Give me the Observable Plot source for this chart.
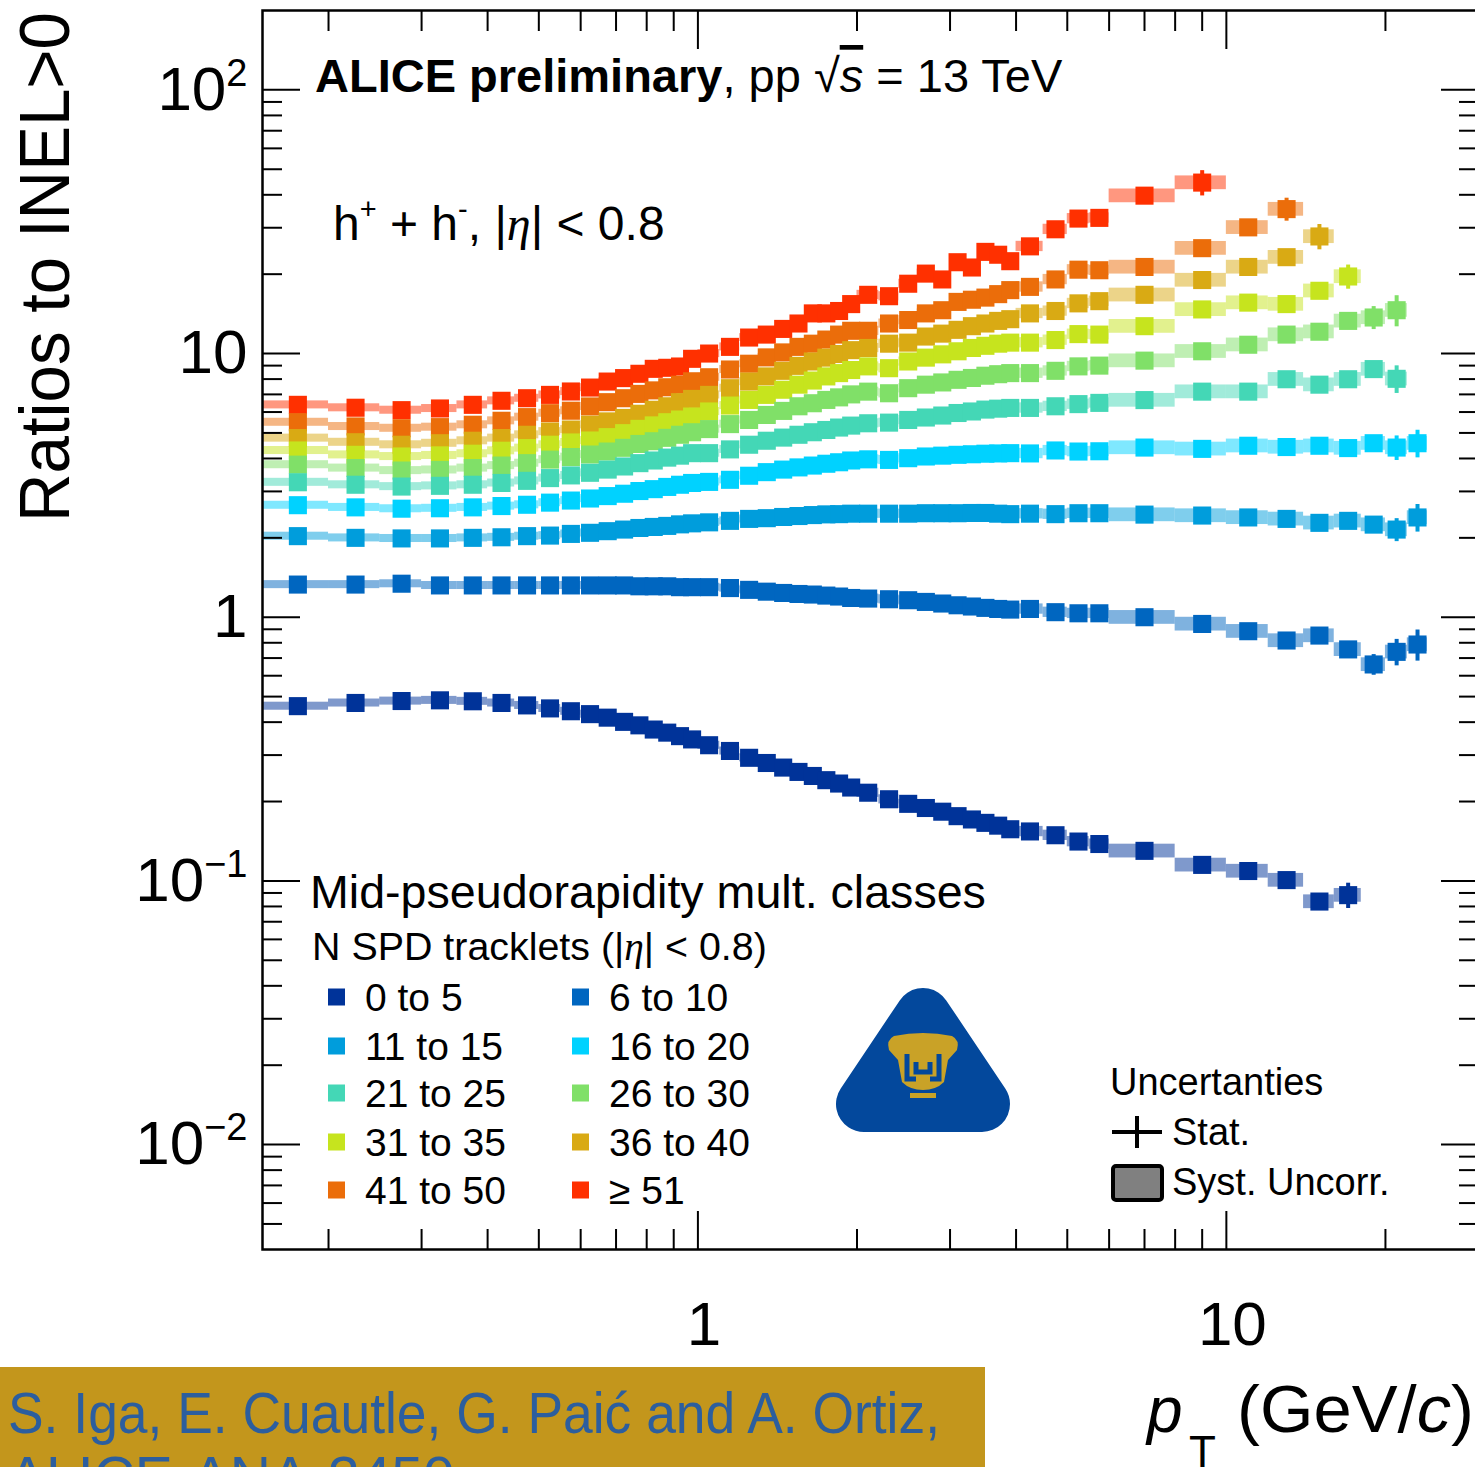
<!DOCTYPE html>
<html><head><meta charset="utf-8">
<script src="https://cdn.jsdelivr.net/npm/d3@7"></script>
<script src="https://cdn.jsdelivr.net/npm/@observablehq/plot@0.6"></script>
<style>
html,body{margin:0;padding:0;background:#fff;overflow:hidden;}
#wrap{position:relative;width:1475px;height:1467px;overflow:hidden;background:#fff;}
#wrap > svg{position:absolute;left:0;top:0;max-width:none !important;}
</style></head><body><div id="wrap"></div>
<script>
// ---------- categories & colours ----------
const classes = ["0 to 5","6 to 10","11 to 15","16 to 20","21 to 25","26 to 30","31 to 35","36 to 40","41 to 50","≥ 51"];
const colors  = ["#003399","#0066c0","#009ddc","#00d2ff","#44d7b6","#80e068","#c6e41e","#d9aa14","#eb6d0a","#ff3000"];

// ---------- pT binning (GeV/c) ----------
const ptLow = [0.15,0.2,0.25,0.3,0.35,0.4,0.45,0.5,0.55,0.6,0.65,0.7,0.75,0.8,0.85,0.9,0.95,
  1.0,1.1,1.2,1.3,1.4,1.5,1.6,1.7,1.8,1.9,
  2.0,2.2,2.4,2.6,2.8,3.0,3.2,3.4,3.6,3.8,
  4.0,4.5,5.0,5.5,
  6,8,10,12,14,16,18,20,22];
const ptHigh = [0.2,0.25,0.3,0.35,0.4,0.45,0.5,0.55,0.6,0.65,0.7,0.75,0.8,0.85,0.9,0.95,1.0,
  1.1,1.2,1.3,1.4,1.5,1.6,1.7,1.8,1.9,2.0,
  2.2,2.4,2.6,2.8,3.0,3.2,3.4,3.6,3.8,4.0,
  4.5,5.0,5.5,6.0,
  8,10,12,14,16,18,20,22,24];
const ptCenter = [0.175,0.225,0.275,0.325,0.375,0.425,0.475,0.525,0.575,0.625,0.675,0.725,0.775,0.825,0.875,0.925,0.975,
  1.05,1.15,1.25,1.35,1.45,1.55,1.65,1.75,1.85,1.95,
  2.1,2.3,2.5,2.7,2.9,3.1,3.3,3.5,3.7,3.9,
  4.25,4.75,5.25,5.75,
  7,9,11,13,15,17,19,21,23];
// relative uncorrelated systematic uncertainty per bin
const systRel = [0.035,0.035,0.035,0.035,0.035,0.035,0.035,0.035,0.035,0.035,0.035,0.035,0.035,0.035,0.035,0.035,0.035,
  0.035,0.035,0.035,0.035,0.035,0.035,0.035,0.035,0.035,0.035,
  0.04,0.04,0.04,0.04,0.04,0.04,0.04,0.04,0.04,0.04,
  0.045,0.045,0.045,0.045,
  0.06,0.06,0.06,0.06,0.06,0.06,0.06,0.06,0.06];

// ---------- ratios to INEL>0, one array per multiplicity class ----------
const r0_5 = [0.46,0.473,0.481,0.484,0.48,0.473,0.463,0.451,0.44,
  0.429,0.416,0.401,0.389,0.375,0.365,0.354,0.344,
  0.327,0.311,0.293,0.280,0.269,0.259,0.250,0.241,0.234,0.226,
  0.216,0.204,0.196,0.189,0.183,0.176,0.171,0.166,0.162,0.157,
  0.154,0.149,0.141,0.138,
  0.130,0.115,0.109,0.1007,0.0835,0.0883];
const r6_10 = [1.33,1.33,1.34,1.32,1.32,1.32,1.32,1.32,1.32,
  1.32,1.32,1.32,1.31,1.31,1.31,1.30,1.30,
  1.30,1.29,1.27,1.25,1.236,1.225,1.219,1.208,1.198,1.183,
  1.177,1.17,1.16,1.143,1.127,1.11,1.098,1.085,1.075,1.069,
  1.075,1.045,1.035,1.035,
  1.0,0.943,0.885,0.816,0.852,0.755,0.662,0.739,0.788];
const r11_15 = [2.03,2.0,1.99,1.99,2.0,2.01,2.03,2.04,2.07,
  2.09,2.12,2.15,2.18,2.20,2.22,2.25,2.27,
  2.29,2.32,2.36,2.375,2.40,2.42,2.44,2.455,2.46,2.47,
  2.47,2.47,2.47,2.48,2.48,2.48,2.485,2.485,2.47,2.46,
  2.47,2.46,2.48,2.48,
  2.45,2.43,2.39,2.36,2.28,2.32,2.245,2.15,2.39];
const r16_20 = [2.66,2.61,2.58,2.59,2.61,2.64,2.67,2.72,2.77,
  2.82,2.88,2.94,3.01,3.06,3.12,3.18,3.23,
  3.26,3.32,3.44,3.55,3.63,3.70,3.76,3.82,3.87,3.93,
  3.97,3.95,4.01,4.07,4.1,4.13,4.15,4.17,4.18,4.19,
  4.18,4.29,4.25,4.26,
  4.40,4.35,4.47,4.42,4.47,4.38,4.57,4.40,4.57];
const r21_25 = [3.25,3.18,3.13,3.15,3.18,3.23,3.29,3.37,3.45,
  3.53,3.63,3.73,3.84,3.93,4.03,4.10,4.19,
  4.19,4.33,4.51,4.67,4.80,4.92,5.03,5.13,5.24,5.33,
  5.44,5.47,5.60,5.72,5.82,5.95,6.03,6.13,6.18,6.22,
  6.22,6.31,6.43,6.50,
  6.66,7.17,7.17,7.99,7.62,7.99,8.73,8.02];
const r26_30 = [3.79,3.68,3.60,3.62,3.68,3.76,3.84,3.96,4.05,
  4.14,4.25,4.39,4.54,4.65,4.79,4.92,5.03,
  5.17,5.40,5.60,5.85,6.06,6.31,6.48,6.67,6.82,7.0,
  7.17,7.07,7.39,7.62,7.77,7.95,8.08,8.24,8.35,8.43,
  8.43,8.6,8.94,9.0,
  9.4,10.2,10.8,11.8,12.1,13.3,13.7,14.6];
const r31_35 = [4.29,4.13,4.07,4.11,4.17,4.28,4.38,4.51,4.6,
  4.68,4.82,4.99,5.18,5.34,5.49,5.62,5.77,
  6.03,6.35,6.67,6.97,7.29,7.62,7.9,8.19,8.43,8.66,
  8.94,8.8,9.33,9.65,9.93,10.2,10.5,10.7,10.9,11.0,
  11.0,11.25,11.85,11.8,
  12.7,14.7,15.6,15.4,17.3,19.6];
const r36_40 = [4.78,4.61,4.51,4.57,4.67,4.78,4.92,5.06,5.15,
  5.37,5.53,5.70,5.91,6.12,6.31,6.54,6.73,
  6.97,7.39,7.83,8.19,8.6,8.98,9.33,9.65,9.96,10.3,
  10.5,10.9,11.0,11.6,11.9,12.3,12.7,13.0,13.3,13.5,
  14.2,14.5,15.5,15.8,
  16.7,19.0,21.3,23.2,27.8];
const r41_50 = [5.49,5.29,5.21,5.26,5.37,5.56,5.74,5.94,6.07,
  6.30,6.54,6.77,7.03,7.25,7.45,7.62,7.85,
  8.13,8.7,9.15,9.67,10.1,10.6,10.9,11.3,11.8,12.2,
  12.2,13.0,13.4,14.2,14.6,15.7,16.0,16.3,16.8,17.4,
  17.9,19.1,20.8,20.7,
  21.3,25.1,30.1,35.3];
const r51 = [6.39,6.23,6.10,6.19,6.39,6.62,6.77,6.97,7.18,
  7.43,7.83,8.07,8.38,8.75,8.83,8.93,9.55,
  10.0,10.6,11.5,11.8,12.4,13.0,14.2,14.2,14.5,15.4,
  16.7,16.5,18.4,20.1,19.1,22.2,21.2,24.3,23.7,22.4,
  25.5,29.6,32.5,32.7,
  39.7,44.5];
// visible statistical error bars: [class index, pT centre, relative error]
const statBars = [[9,9,0.11],[8,13,0.10],[7,15,0.11],[6,17,0.105],[5,19,0.10],[5,21,0.135],
  [4,21,0.12],[3,21,0.107],[3,23,0.12],[2,21,0.10],[2,23,0.12],[1,19,0.09],[1,21,0.115],[1,23,0.135],[0,17,0.11]];

// ---------- axis ticks ----------
const yMajor = [0.01, 0.1, 1, 10, 100];
const yLabels = ["10^−2", "10^−1", "1", "10", "10^2"];
const xMajor = [1, 10];
const xLabels = ["1", "10"];
const multipliers = [2,3,4,5,6,7,8,9];
const yMinor = [];
for (const dec of [0.001, 0.01, 0.1, 1, 10, 100]) for (const m of multipliers) { const t = dec * m; if (t > 0.0041 && t < 199) yMinor.push(t); }
const xMinor = [];
for (const dec of [0.1, 1, 10]) for (const m of multipliers) { const t = dec * m; if (t > 0.151 && t < 29.9) xMinor.push(t); }

// ---------- tables ----------
const seriesList = [r0_5, r6_10, r11_15, r16_20, r21_25, r26_30, r31_35, r36_40, r41_50, r51];
const table = [];
for (let i = seriesList.length - 1; i >= 0; i--) {
  seriesList[i].forEach((v, j) => table.push({cls: classes[i], pt: ptCenter[j], lo: ptLow[j], hi: ptHigh[j], v, syst: systRel[j]}));
}
const statRows = statBars.map(([k, pt, rel]) => ({cls: classes[k], pt, v: seriesList[k][ptCenter.indexOf(pt)], rel}));

const W = 1480, H = 1467;
const plot = Plot.plot({
  width: W, height: H,
  marginLeft: 262, marginRight: 2, marginTop: 10, marginBottom: H - 1249,
  x: {type: "log", domain: [0.15, 30]},
  y: {type: "log", domain: [0.004, 200]},
  color: {domain: classes, range: colors},
  style: {fontFamily: "'Liberation Sans', Arial, Helvetica, sans-serif", background: "transparent", color: "black", overflow: "visible", maxWidth: "none"},
  marks: [
    Plot.rect(table, {x1: "lo", x2: "hi", y1: d => d.v * (1 - d.syst), y2: d => d.v * (1 + d.syst), fill: "cls", fillOpacity: 0.5}),
    Plot.ruleX(statRows, {x: "pt", y1: d => d.v * (1 - d.rel), y2: d => d.v * (1 + d.rel), stroke: "cls", strokeWidth: 4}),
    Plot.dot(table, {x: "pt", y: "v", fill: "cls", symbol: "square", r: 10.2}),
    Plot.frame({stroke: "black", strokeWidth: 2.5}),
    Plot.axisY(yMajor, {anchor: "left", tickSize: -38, fill: "none", strokeWidth: 2}),
    Plot.axisY(yMinor, {anchor: "left", tickSize: -20, fill: "none", strokeWidth: 2}),
    Plot.axisY(yMajor, {anchor: "right", tickSize: -38, fill: "none", strokeWidth: 2}),
    Plot.axisY(yMinor, {anchor: "right", tickSize: -20, fill: "none", strokeWidth: 2}),
    Plot.axisX(xMajor, {anchor: "bottom", tickSize: -38, fill: "none", strokeWidth: 2}),
    Plot.axisX(xMinor, {anchor: "bottom", tickSize: -20, fill: "none", strokeWidth: 2}),
    Plot.axisX(xMajor, {anchor: "top", tickSize: -38, fill: "none", strokeWidth: 2}),
    Plot.axisX(xMinor, {anchor: "top", tickSize: -20, fill: "none", strokeWidth: 2}),
    Plot.axisY(yMajor, {anchor: "left", tickSize: 0, tickPadding: 15, fontSize: 62, tickFormat: d => yLabels[yMajor.indexOf(d)], label: null}),
    Plot.axisX(xMajor, {anchor: "bottom", tickSize: 0, tickPadding: 51, fontSize: 62, dx: 6, tickFormat: d => xLabels[xMajor.indexOf(d)], label: null})
  ]
});
plot.style.maxWidth = "none";
// superscripts on the y tick labels
d3.select(plot).selectAll('g[aria-label="y-axis tick label"] text').each(function () {
  const t = this.textContent, k = t.indexOf("^");
  if (k >= 0) {
    const sel = d3.select(this);
    sel.text(t.slice(0, k));
    sel.append("tspan").attr("dy", -24).attr("font-size", 38).text(t.slice(k + 1));
  }
});
document.getElementById("wrap").appendChild(plot);

// ---------- overlay: titles, legend, caption ----------
const ov = d3.create("svg").attr("width", 1475).attr("height", 1467)
  .style("font-family", "'Liberation Sans', Arial, Helvetica, sans-serif").style("pointer-events", "none");

// y title
ov.append("text").attr("transform", "translate(69,267) rotate(-90)").attr("text-anchor", "middle")
  .attr("font-size", 70).attr("textLength", 510).attr("lengthAdjust", "spacingAndGlyphs").text("Ratios to INEL>0");

// x title
ov.append("text").attr("x", 1147).attr("y", 1432).attr("font-size", 64).attr("font-style", "italic").text("p");
ov.append("text").attr("x", 1189).attr("y", 1467).attr("font-size", 44).text("T");
const xt = ov.append("text").attr("x", 1237).attr("y", 1432).attr("font-size", 66)
  .attr("textLength", 237).attr("lengthAdjust", "spacingAndGlyphs");
xt.append("tspan").text("(GeV/");
xt.append("tspan").attr("font-style", "italic").text("c");
xt.append("tspan").text(")");

// credit box
ov.append("rect").attr("x", 0).attr("y", 1367).attr("width", 985).attr("height", 100).attr("fill", "#c3961c");
ov.append("text").attr("x", 8).attr("y", 1433).attr("font-size", 57).attr("fill", "#2c5e9e")
  .attr("textLength", 932).attr("lengthAdjust", "spacingAndGlyphs").text("S. Iga, E. Cuautle, G. Paić and A. Ortiz,");
ov.append("text").attr("x", 8).attr("y", 1497).attr("font-size", 57).attr("fill", "#2c5e9e").text("ALICE-ANA-3450");

// header lines
const t1 = ov.append("text").attr("x", 315).attr("y", 92).attr("font-size", 47);
t1.append("tspan").attr("font-weight", "bold").text("ALICE preliminary");
t1.append("tspan").text(", pp ");
t1.append("tspan").text("√");
t1.append("tspan").attr("font-style", "italic").style("text-decoration", "overline").text("s");
t1.append("tspan").text(" = 13 TeV");

const t2 = ov.append("text").attr("x", 333).attr("y", 240).attr("font-size", 48);
t2.append("tspan").text("h");
t2.append("tspan").attr("font-size", 29).attr("dy", -21).text("+");
t2.append("tspan").attr("dy", 21).text(" + h");
t2.append("tspan").attr("font-size", 29).attr("dy", -21).text("-");
t2.append("tspan").attr("dy", 21).text(", |");
t2.append("tspan").attr("font-family", "'Liberation Serif', serif").attr("font-style", "italic").text("η");
t2.append("tspan").text("| < 0.8");

// multiplicity legend
ov.append("text").attr("x", 310).attr("y", 908).attr("font-size", 46.6).text("Mid-pseudorapidity mult. classes");
const t3 = ov.append("text").attr("x", 312).attr("y", 960).attr("font-size", 39.4);
t3.append("tspan").text("N SPD tracklets (|");
t3.append("tspan").attr("font-family", "'Liberation Serif', serif").attr("font-style", "italic").text("η");
t3.append("tspan").text("| < 0.8)");
const rowY = [997, 1046, 1093, 1142, 1190];
classes.forEach((c, i) => {
  const col = i % 2, row = Math.floor(i / 2);
  const sx = col ? 572 : 328, tx = col ? 609 : 365;
  ov.append("rect").attr("x", sx).attr("y", rowY[row] - 8.5).attr("width", 17).attr("height", 17).attr("fill", colors[i]);
  ov.append("text").attr("x", tx).attr("y", rowY[row] + 14).attr("font-size", 39).text(c);
});

// uncertainties legend
ov.append("text").attr("x", 1110).attr("y", 1095).attr("font-size", 38).text("Uncertanties");
ov.append("line").attr("x1", 1112).attr("x2", 1162).attr("y1", 1132).attr("y2", 1132).attr("stroke", "black").attr("stroke-width", 4);
ov.append("line").attr("x1", 1137).attr("x2", 1137).attr("y1", 1116).attr("y2", 1148).attr("stroke", "black").attr("stroke-width", 4);
ov.append("text").attr("x", 1172).attr("y", 1145).attr("font-size", 38).text("Stat.");
ov.append("rect").attr("x", 1113).attr("y", 1166).attr("width", 49).attr("height", 34).attr("rx", 3)
  .attr("fill", "#808080").attr("stroke", "black").attr("stroke-width", 4);
ov.append("text").attr("x", 1172).attr("y", 1195).attr("font-size", 38).text("Syst. Uncorr.");

// logo
const lg = ov.append("g");
lg.append("polygon").attr("points", "923,1016 864,1104 982,1104").attr("fill", "#03489c")
  .attr("stroke", "#03489c").attr("stroke-width", 56).attr("stroke-linejoin", "round");
lg.append("path").attr("fill", "#c9a227")
  .attr("d", "M894,1036 Q923,1030 952,1036 Q960,1040 957,1050 L948,1060 L944,1082 Q936,1090 923,1090 Q910,1090 902,1082 L898,1060 L889,1050 Q886,1040 894,1036 Z");
lg.append("path").attr("fill", "none").attr("stroke", "#03489c").attr("stroke-width", 5)
  .attr("d", "M907,1054 L907,1079 L916,1079 M939,1054 L939,1079 L930,1079 M916,1062 L916,1072 L930,1072 L930,1062");
lg.append("rect").attr("x", 910).attr("y", 1093).attr("width", 26).attr("height", 5).attr("fill", "#c9a227");

document.getElementById("wrap").appendChild(ov.node());
</script></body></html>
